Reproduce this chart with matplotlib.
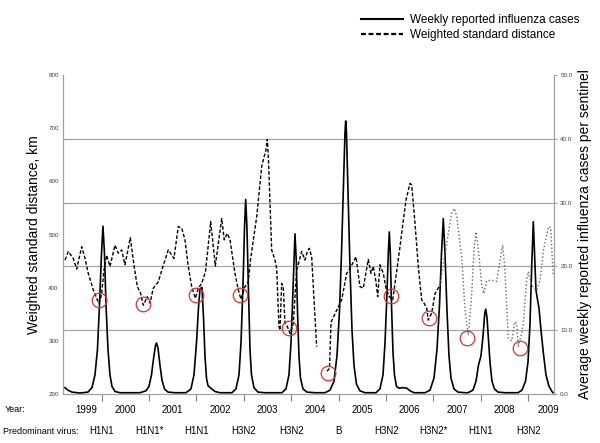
import numpy as np
import matplotlib
matplotlib.use("Agg")
import matplotlib.pyplot as plt
from matplotlib.transforms import blended_transform_factory
from matplotlib.lines import Line2D

plt.rcParams['font.family'] = ['Liberation Sans', 'DejaVu Sans']

# ---------------- data ----------------
# Weekly reported influenza cases (average per sentinel), decimal year
case_t = [1999.226, 1999.289, 1999.373, 1999.542, 1999.711, 1999.795, 1999.859, 1999.911, 1999.954, 1999.996,
          2000.027, 2000.059, 2000.091, 2000.133, 2000.175, 2000.217, 2000.281, 2000.386,
          2000.808, 2000.935, 2000.998, 2001.051, 2001.093, 2001.135, 2001.156, 2001.188, 2001.230, 2001.272,
          2001.325, 2001.399, 2001.546,
          2001.778, 2001.884, 2001.947, 2002.000, 2002.042, 2002.074, 2002.116, 2002.148, 2002.179, 2002.211,
          2002.243, 2002.306, 2002.390, 2002.496,
          2002.749, 2002.833, 2002.897, 2002.939, 2002.981, 2003.013, 2003.038, 2003.065, 2003.097, 2003.129,
          2003.160, 2003.213, 2003.297, 2003.445,
          2003.804, 2003.888, 2003.951, 2003.994, 2004.025, 2004.057, 2004.078, 2004.105, 2004.131, 2004.162,
          2004.194, 2004.247, 2004.331, 2004.500,
          2004.711, 2004.817, 2004.901, 2004.964, 2005.017, 2005.059, 2005.101, 2005.133, 2005.148, 2005.164,
          2005.196, 2005.238, 2005.281, 2005.323, 2005.376, 2005.449, 2005.555,
          2005.787, 2005.871, 2005.935, 2005.977, 2006.015, 2006.046, 2006.068, 2006.089, 2006.114, 2006.146,
          2006.177, 2006.219, 2006.272, 2006.356, 2006.441, 2006.504, 2006.589,
          2006.821, 2006.926, 2007.011, 2007.074, 2007.127, 2007.169, 2007.207, 2007.243, 2007.285, 2007.327,
          2007.369, 2007.432, 2007.517, 2007.665,
          2007.728, 2007.833, 2007.897, 2007.949, 2008.002, 2008.044, 2008.080, 2008.101, 2008.129, 2008.160,
          2008.192, 2008.234, 2008.287, 2008.361, 2008.508,
          2008.783, 2008.867, 2008.941, 2008.994, 2009.036, 2009.072, 2009.106, 2009.137, 2009.162, 2009.194,
          2009.225, 2009.268, 2009.317, 2009.373, 2009.437, 2009.500, 2009.521]
case_v = [1.0, 0.6, 0.3, 0.15, 0.3, 1.0, 3.0, 7.0, 14.0, 22.0,
          26.3, 22.0, 14.0, 7.0, 3.0, 1.2, 0.4, 0.2,
          0.2, 0.5, 1.2, 3.0, 5.5, 7.6, 8.0, 7.2, 4.5, 2.2,
          0.8, 0.3, 0.2,
          0.2, 0.8, 3.0, 8.0, 13.5, 16.5, 16.7, 12.0, 6.0, 2.5,
          1.3, 0.9, 0.4, 0.2,
          0.2, 0.8, 3.0, 8.0, 17.0, 26.0, 30.5, 26.0, 16.0, 7.0,
          3.0, 1.0, 0.3, 0.2,
          0.2, 0.8, 3.0, 8.0, 14.0, 21.0, 25.1, 21.0, 13.0, 6.0,
          2.5, 0.8, 0.3, 0.2,
          0.2, 0.6, 2.0, 6.0, 13.0, 22.0, 33.0, 41.0, 42.8, 41.0,
          32.0, 20.0, 10.0, 4.5, 1.5, 0.5, 0.2,
          0.2, 0.8, 3.0, 8.0, 15.0, 22.0, 25.4, 22.0, 14.0, 6.5,
          3.0, 1.2, 0.9, 1.0, 0.9, 0.5, 0.2,
          0.2, 0.6, 2.5, 7.0, 14.0, 22.0, 27.5, 22.0, 13.0, 6.0,
          2.5, 0.8, 0.3, 0.2,
          0.2, 0.6, 2.0, 4.5, 6.0, 9.0, 12.5, 13.3, 12.0, 8.5,
          5.0, 2.0, 0.8, 0.3, 0.2,
          0.2, 0.6, 2.0, 5.0, 11.0, 20.0, 27.0, 21.0, 16.3, 14.8,
          13.5, 10.0, 6.5, 3.0, 1.2, 0.4, 0.2]

# Weighted standard distance (km), 1999-2007 part (dashed) ; nan = gap
wsd_t1 = [1999.226, 1999.295, 1999.401, 1999.473, 1999.578, 1999.648, 1999.717, 1999.823, 1999.907, 1999.949,
          2000.000, 2000.049, 2000.105, 2000.175, 2000.281, 2000.350, 2000.422, 2000.492, 2000.603, 2000.692,
          2000.751, 2000.819, 2000.878, 2000.962, 2001.019, 2001.089, 2001.194, 2001.293, 2001.405, 2001.525,
          2001.616, 2001.688, 2001.757, 2001.827, 2001.899, 2001.975, 2002.038, 2002.110, 2002.190, 2002.300,
          2002.397, 2002.532, 2002.586, 2002.650, 2002.707, 2002.812, 2002.882, 2002.939, 2003.023, 2003.093,
          2003.139, 2003.270, 2003.376, 2003.424, 2003.466, 2003.494, 2003.519, 2003.586, 2003.656, 2003.692,
          2003.740, 2003.762, 2003.797, 2003.831, 2003.867, 2003.916, 2003.973, 2004.042, 2004.114, 2004.219,
          2004.289, 2004.338, 2004.380, 2004.430, 2004.500, 2004.536, 2004.640,
          2004.753, 2004.806, 2004.838, 2005.063, 2005.169, 2005.238, 2005.365, 2005.449, 2005.519, 2005.624,
          2005.681, 2005.730, 2005.787, 2005.823, 2005.871, 2005.941, 2005.998, 2006.068, 2006.139, 2006.188,
          2006.293, 2006.420, 2006.504, 2006.540, 2006.610, 2006.679, 2006.751, 2006.800, 2006.857, 2006.890,
          2006.962, 2007.032, 2007.137]
wsd_v1 = [452, 468, 455, 435, 477, 455, 427, 396, 377, 370,
          389, 433, 461, 440, 480, 465, 471, 443, 494, 436,
          402, 390, 367, 383, 371, 399, 411, 440, 471, 455,
          515, 512, 490, 440, 402, 380, 399, 408, 430, 524,
          441, 530, 490, 502, 490, 427, 396, 378, 402, 411,
          452, 533, 628, 645, 659, 679, 640, 471, 452, 436,
          327, 320, 408, 402, 333, 327, 314, 333, 433, 468,
          452, 468, 474, 458, 345, 289, np.nan,
          243, 248, 335, 377, 427, 436, 458, 402, 399, 453,
          427, 440, 411, 383, 443, 427, 399, 383, 377, 408,
          477, 565, 596, 593, 521, 440, 377, 371, 361, 339,
          352, 389, 405]

# Weighted standard distance (km), 2007-2009 part (dotted)
wsd_t2 = [2007.137, 2007.278, 2007.384, 2007.439, 2007.489, 2007.595, 2007.665, 2007.734, 2007.806, 2007.854,
          2007.897, 2007.945, 2008.017, 2008.065, 2008.122, 2008.228, 2008.333, 2008.403, 2008.460, 2008.508,
          2008.578, 2008.650, 2008.719, 2008.755, 2008.789, 2008.861, 2008.895, 2008.966, 2009.000, 2009.057,
          2009.106, 2009.177, 2009.247, 2009.321, 2009.428, 2009.473, 2009.527]
wsd_v2 = [405, 483, 540, 549, 535, 458, 358, 311, 389, 471,
          505, 474, 405, 389, 413, 414, 412, 450, 480, 433,
          305, 300, 336, 333, 289, 315, 333, 415, 430, 410,
          400, 395, 414, 471, 515, 513, 421]

# Red circles: seasonal minima of the weighted standard distance
circ_t = [1999.954, 2000.878, 2001.983, 2002.928, 2003.958, 2004.781, 2006.103, 2006.911, 2007.717, 2008.819]
circ_v = [376.8, 368.6, 386.8, 386.0, 323.6, 240.0, 385.0, 342.4, 306.0, 287.0]

year_labels = ['1999', '2000', '2001', '2002', '2003', '2004', '2005', '2006', '2007', '2008', '2009']
year_label_pos = [1999.68, 2000.5, 2001.5, 2002.5, 2003.5, 2004.5, 2005.5, 2006.5, 2007.5, 2008.5, 2009.42]
season_ticks = [2000, 2001, 2002, 2003, 2004, 2005, 2006, 2007, 2008, 2009]
virus_labels = ['H1N1', 'H1N1*', 'H1N1', 'H3N2', 'H3N2', 'B', 'H3N2', 'H3N2*', 'H1N1', 'H3N2']

left_ticks = [200, 300, 400, 500, 600, 700, 800]
right_ticks = [0, 10, 20, 30, 40, 50]
right_tick_labels = ['0.0', '10.0', '20.0', '30.0', '40.0', '50.0']

# ---------------- figure ----------------
fig = plt.figure(figsize=(6.0, 4.43), dpi=100)
ax = fig.add_axes([0.105, 0.1106, 0.8183, 0.7201])
ax2 = ax.twinx()

ax.set_xlim(1999.184, 2009.542)
ax.set_ylim(200, 800)
ax2.set_ylim(0, 50)

grid_c = '#a6a6a6'
for yv in right_ticks[1:-1]:
    ax2.axhline(yv, color=grid_c, lw=0.9, zorder=0)

ax.plot(wsd_t1, wsd_v1, color='black', lw=1.0, linestyle=(0, (2.6, 1.4)), zorder=2)
ax.plot(wsd_t2, wsd_v2, color='#6a6a6a', lw=1.0, linestyle=(0, (1.0, 1.6)), zorder=2)
ax2.plot(case_t, case_v, color='black', lw=1.2, zorder=3)
ax.plot(circ_t, circ_v, linestyle='none', marker='o', markersize=10.5,
        markerfacecolor='none', markeredgecolor='#d9342b', markeredgewidth=0.9, zorder=4)
ax.set_zorder(ax2.get_zorder() + 1)
ax.patch.set_visible(False)

for a in (ax, ax2):
    a.spines['top'].set_visible(False)
    for s in ('left', 'right', 'bottom'):
        a.spines[s].set_color('#a0a0a0')
        a.spines[s].set_linewidth(0.8)

ax.set_yticks(left_ticks)
ax.set_yticklabels([str(v) for v in left_ticks])
ax.tick_params(axis='y', labelsize=4.5, labelcolor='#404040', length=0, pad=3)
ax2.set_yticks(right_ticks)
ax2.set_yticklabels(right_tick_labels)
ax2.tick_params(axis='y', labelsize=4.5, labelcolor='#404040', length=2.5, color='#a0a0a0', pad=2)

ax.set_xticks(season_ticks)
ax.set_xticklabels([])
ax.tick_params(axis='x', direction='out', length=5, width=0.8, color='#808080')
ax2.tick_params(axis='x', length=0)

ax.set_ylabel('Weighted standard distance, km', fontsize=10, labelpad=5)
ax2.set_ylabel('Average weekly reported influenza cases per sentinel', fontsize=10, labelpad=4)

trans = blended_transform_factory(ax.transData, fig.transFigure)
y_year = (443 - 410) / 443
y_vir = (443 - 431) / 443
fig.text(5 / 600, y_year, 'Year:', fontsize=6.5, ha='left', va='center')
fig.text(3 / 600, y_vir, 'Predominant virus:', fontsize=6.5, ha='left', va='center')
for lab, pos in zip(year_labels, year_label_pos):
    ax.text(pos, y_year, lab, transform=trans, fontsize=7, ha='center', va='center', clip_on=False)
for lab, pos in zip(virus_labels, season_ticks):
    ax.text(pos, y_vir, lab, transform=trans, fontsize=7, ha='center', va='center', clip_on=False)

h1 = Line2D([], [], color='black', lw=1.5)
h2 = Line2D([], [], color='black', lw=1.6, linestyle=(0, (2.2, 1.2)))
fig.legend([h1, h2], ['Weekly reported influenza cases', 'Weighted standard distance'],
           loc='upper left', bbox_to_anchor=(355 / 600, 1 - 8 / 443), frameon=False,
           fontsize=8.5, handlelength=3.6, handletextpad=0.6, labelspacing=0.25, borderpad=0)

fig.savefig('out.png', dpi=100)
